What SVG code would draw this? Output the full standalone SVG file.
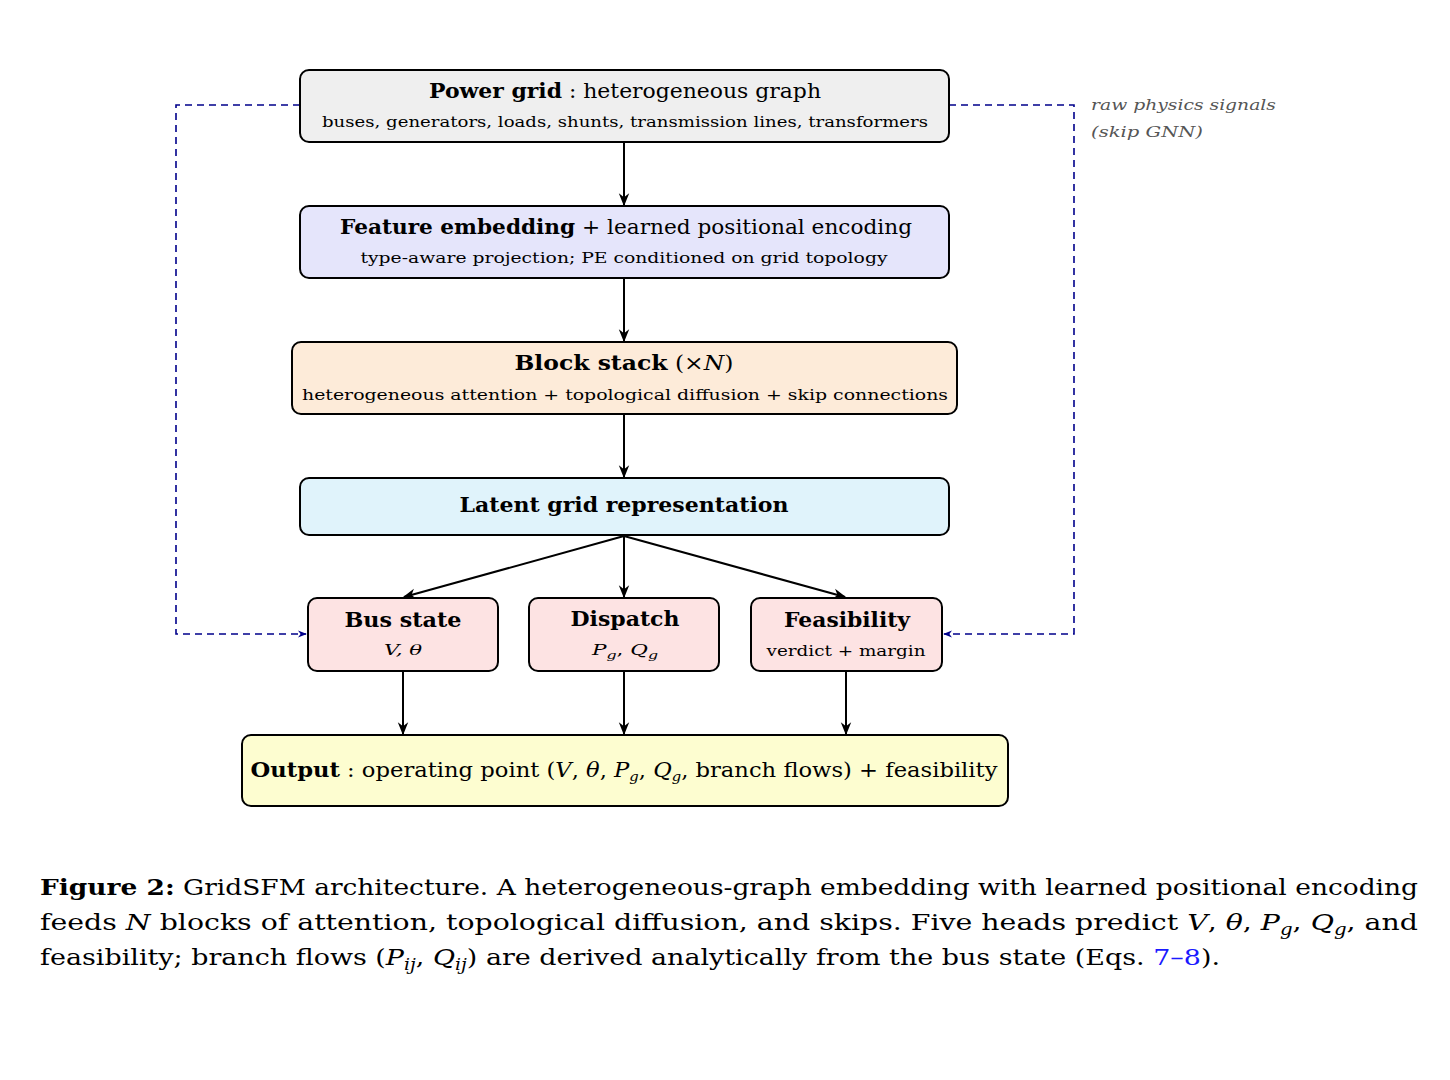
<svg xmlns="http://www.w3.org/2000/svg" width="1450" height="1080" viewBox="0 0 1450 1080">
<defs>
<marker id="ah" viewBox="0 0 10 10" refX="9" refY="5" markerWidth="13" markerHeight="13" orient="auto" markerUnits="userSpaceOnUse"><path d="M0,1 L10,5 L0,9 L3,5 Z" fill="#000"/></marker>
<marker id="ahb" viewBox="0 0 10 10" refX="9" refY="5" markerWidth="9" markerHeight="9" orient="auto" markerUnits="userSpaceOnUse"><path d="M0,1 L10,5 L0,9 L3,5 Z" fill="#00008b"/></marker>
<style>
.box{stroke:#000;stroke-width:2}
text{font-family:"DejaVu Serif","Liberation Serif",serif;fill:#000}
.t{font-size:20px;text-anchor:middle}
.s{font-size:15px;text-anchor:middle}
.b{font-weight:bold}
.i{font-style:italic}
.c{font-size:23px}
.e{stroke:#000;stroke-width:2;fill:none;marker-end:url(#ah)}
.d{stroke:#00008b;stroke-width:1.6;fill:none;stroke-dasharray:7,5;marker-end:url(#ahb)}
</style>
</defs>
<rect width="1450" height="1080" fill="#fff"/>
<g id="connectors">
<path class="e" d="M624,142 V205"/>
<path class="e" d="M624,278 V341"/>
<path class="e" d="M624,414 V477"/>
<path class="e" d="M624,536 L404,597"/>
<path class="e" d="M624,536 V597"/>
<path class="e" d="M624,536 L845,597"/>
<path class="e" d="M403,671 V734"/>
<path class="e" d="M624,671 V734"/>
<path class="e" d="M846,671 V734"/>
<path class="d" d="M300,105 H176 V634 H306"/>
<path class="d" d="M949,105 H1074 V634 H944"/>
<text x="1091" y="110" font-size="14" class="i" style="fill:#555" textLength="185" lengthAdjust="spacingAndGlyphs">raw physics signals</text>
<text x="1091" y="137" font-size="14" class="i" style="fill:#555" textLength="112" lengthAdjust="spacingAndGlyphs">(skip GNN)</text>
</g>
<g id="power">
<rect class="box" x="300" y="70" width="649" height="72" rx="9" fill="#efefef"/>
<text class="t" x="625" y="98" textLength="392" lengthAdjust="spacingAndGlyphs"><tspan class="b">Power grid</tspan> :  heterogeneous graph</text>
<text class="s" x="625" y="127" textLength="606" lengthAdjust="spacingAndGlyphs">buses, generators, loads, shunts, transmission lines, transformers</text>
</g>
<g id="embed">
<rect class="box" x="300" y="206" width="649" height="72" rx="9" fill="#e5e5fb"/>
<text class="t" x="626" y="234" textLength="572" lengthAdjust="spacingAndGlyphs"><tspan class="b">Feature embedding</tspan> + learned positional encoding</text>
<text class="s" x="624" y="263" textLength="527" lengthAdjust="spacingAndGlyphs">type-aware projection;  PE conditioned on grid topology</text>
</g>
<g id="block">
<rect class="box" x="292" y="342" width="665" height="72" rx="9" fill="#fdebd9"/>
<text class="t" x="624" y="370" textLength="219" lengthAdjust="spacingAndGlyphs"><tspan class="b">Block stack</tspan>  (×<tspan class="i">N</tspan>)</text>
<text class="s" x="625" y="400" textLength="646" lengthAdjust="spacingAndGlyphs">heterogeneous attention  +  topological diffusion  +  skip connections</text>
</g>
<g id="latent">
<rect class="box" x="300" y="478" width="649" height="57" rx="9" fill="#e0f3fb"/>
<text class="t b" x="624" y="512" textLength="329" lengthAdjust="spacingAndGlyphs">Latent grid representation</text>
</g>
<g id="bus">
<rect class="box" x="308" y="598" width="190" height="73" rx="9" fill="#fde3e3"/>
<text class="t b" x="403" y="627" textLength="117" lengthAdjust="spacingAndGlyphs">Bus state</text>
<text class="s i" x="403" y="655" textLength="38" lengthAdjust="spacingAndGlyphs">V, θ</text>
</g>
<g id="dispatch">
<rect class="box" x="529" y="598" width="190" height="73" rx="9" fill="#fde3e3"/>
<text class="t b" x="625" y="626" textLength="109" lengthAdjust="spacingAndGlyphs">Dispatch</text>
<text class="s i" x="625" y="655" textLength="66" lengthAdjust="spacingAndGlyphs">P<tspan font-size="11" dy="4">g</tspan><tspan dy="-4" font-style="normal">,  </tspan>Q<tspan font-size="11" dy="4">g</tspan></text>
</g>
<g id="feas">
<rect class="box" x="751" y="598" width="191" height="73" rx="9" fill="#fde3e3"/>
<text class="t b" x="847" y="627" textLength="126" lengthAdjust="spacingAndGlyphs">Feasibility</text>
<text class="s" x="846" y="656" textLength="159" lengthAdjust="spacingAndGlyphs">verdict + margin</text>
</g>
<g id="output">
<rect class="box" x="242" y="735" width="766" height="71" rx="9" fill="#fdfdd0"/>
<text class="t" x="624" y="777" textLength="747" lengthAdjust="spacingAndGlyphs"><tspan class="b">Output</tspan> :  operating point (<tspan class="i">V</tspan>, <tspan class="i">θ</tspan>, <tspan class="i">P</tspan><tspan font-size="13" dy="4" class="i">g</tspan><tspan dy="-4">, </tspan><tspan class="i">Q</tspan><tspan font-size="13" dy="4" class="i">g</tspan><tspan dy="-4">, branch flows) + feasibility</tspan></text>
</g>
<g id="caption">
<text class="c" x="40" y="895" textLength="1378" lengthAdjust="spacingAndGlyphs"><tspan class="b">Figure 2:</tspan> GridSFM architecture. A heterogeneous-graph embedding with learned positional encoding</text>
<text class="c" x="40" y="930" textLength="1378" lengthAdjust="spacingAndGlyphs">feeds <tspan class="i">N</tspan> blocks of attention, topological diffusion, and skips.  Five heads predict <tspan class="i">V</tspan>, <tspan class="i">θ</tspan>, <tspan class="i">P</tspan><tspan font-size="16" dy="5" class="i">g</tspan><tspan dy="-5">, </tspan><tspan class="i">Q</tspan><tspan font-size="16" dy="5" class="i">g</tspan><tspan dy="-5">, and</tspan></text>
<text class="c" x="40" y="965" textLength="1180" lengthAdjust="spacingAndGlyphs">feasibility; branch flows (<tspan class="i">P</tspan><tspan font-size="16" dy="5" class="i">ij</tspan><tspan dy="-5">, </tspan><tspan class="i">Q</tspan><tspan font-size="16" dy="5" class="i">ij</tspan><tspan dy="-5">) are derived analytically from the bus state (Eqs. </tspan><tspan style="fill:#1a1aff">7–8</tspan>).</text>
</g>
</svg>
